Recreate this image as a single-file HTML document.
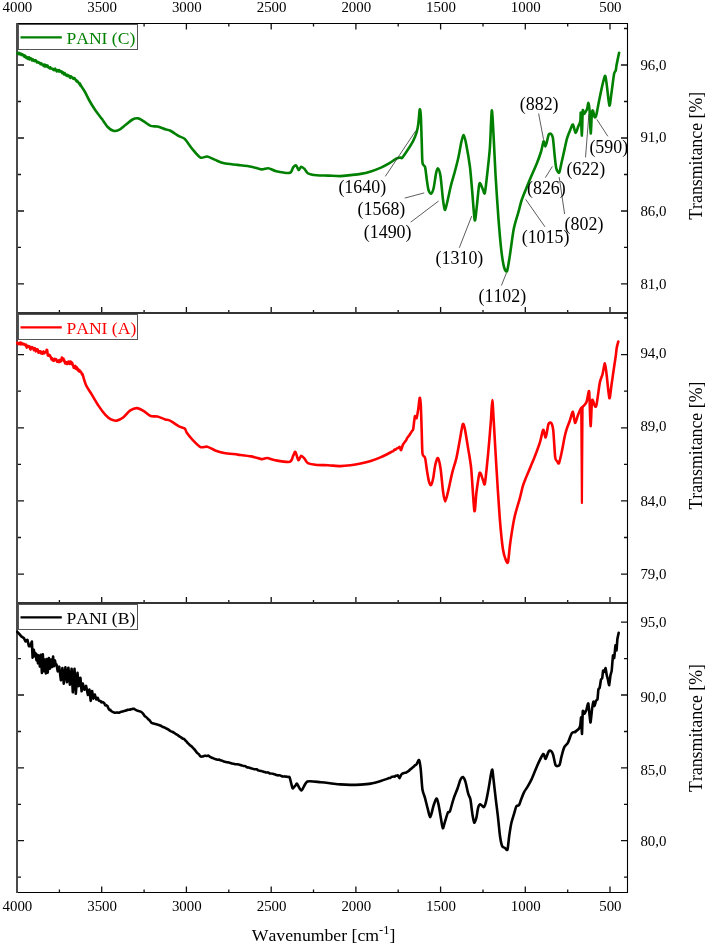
<!DOCTYPE html>
<html><head><meta charset="utf-8"><title>FTIR</title>
<style>html,body{margin:0;padding:0;background:#fff;width:708px;height:947px;overflow:hidden}svg{display:block;will-change:transform;font-family:"Liberation Serif",serif}text{font-kerning:none;font-feature-settings:"kern" 0}</style>
</head><body>
<svg width="708" height="947" viewBox="0 0 708 947">
<rect width="708" height="947" fill="#fff"/>
<path d="M59.4 313.0v-3 M59.4 23.5v3 M101.7 313.0v-6 M101.7 23.5v6 M144.1 313.0v-3 M144.1 23.5v3 M186.4 313.0v-6 M186.4 23.5v6 M228.8 313.0v-3 M228.8 23.5v3 M271.2 313.0v-6 M271.2 23.5v6 M313.5 313.0v-3 M313.5 23.5v3 M355.9 313.0v-6 M355.9 23.5v6 M398.2 313.0v-3 M398.2 23.5v3 M440.6 313.0v-6 M440.6 23.5v6 M483.0 313.0v-3 M483.0 23.5v3 M525.3 313.0v-6 M525.3 23.5v6 M567.7 313.0v-3 M567.7 23.5v3 M610.0 313.0v-6 M610.0 23.5v6 M627 65.0h-6 M18 65.0h6 M627 138.0h-6 M18 138.0h6 M627 211.0h-6 M18 211.0h6 M627 283.9h-6 M18 283.9h6 M627 28.5h-3 M18 28.5h3 M627 101.5h-3 M18 101.5h3 M627 174.5h-3 M18 174.5h3 M627 247.4h-3 M18 247.4h3 M59.4 603.0v-3 M101.7 603.0v-6 M144.1 603.0v-3 M186.4 603.0v-6 M228.8 603.0v-3 M271.2 603.0v-6 M313.5 603.0v-3 M355.9 603.0v-6 M398.2 603.0v-3 M440.6 603.0v-6 M483.0 603.0v-3 M525.3 603.0v-6 M567.7 603.0v-3 M610.0 603.0v-6 M627 354.6h-6 M18 354.6h6 M627 427.8h-6 M18 427.8h6 M627 500.9h-6 M18 500.9h6 M627 574.1h-6 M18 574.1h6 M627 318.0h-3 M18 318.0h3 M627 391.2h-3 M18 391.2h3 M627 464.3h-3 M18 464.3h3 M627 537.5h-3 M18 537.5h3 M59.4 892.5v-3 M101.7 892.5v-6 M144.1 892.5v-3 M186.4 892.5v-6 M228.8 892.5v-3 M271.2 892.5v-6 M313.5 892.5v-3 M355.9 892.5v-6 M398.2 892.5v-3 M440.6 892.5v-6 M483.0 892.5v-3 M525.3 892.5v-6 M567.7 892.5v-3 M610.0 892.5v-6 M627 622.2h-6 M18 622.2h6 M627 695.0h-6 M18 695.0h6 M627 767.9h-6 M18 767.9h6 M627 840.7h-6 M18 840.7h6 M627 658.6h-3 M18 658.6h3 M627 731.5h-3 M18 731.5h3 M627 804.3h-3 M18 804.3h3 M627 877.1h-3 M18 877.1h3" stroke="#111" stroke-width="1.3" fill="none"/>
<path d="M17 23.5H627.5" stroke="#000" stroke-width="1.1"/>
<path d="M17 313H627.5M17 603H627.5" stroke="#333" stroke-width="1.8"/>
<path d="M17 892.5H627.5" stroke="#000" stroke-width="1.1"/>
<path d="M627.5 23V893" stroke="#000" stroke-width="1.1"/>
<path d="M17 23V893" stroke="#4a4a4a" stroke-width="2"/>
<path d="M80.50,85.20C81.10,86.11 83.79,89.89 85.00,92.00C86.21,94.11 88.24,98.60 89.60,101.00C90.96,103.40 93.55,107.59 95.20,110.00C96.85,112.41 100.33,116.83 102.00,119.10C103.67,121.37 106.19,125.44 107.70,127.00C109.21,128.56 111.79,130.41 113.30,130.80C114.81,131.19 117.35,130.71 119.00,129.90C120.65,129.09 123.90,126.09 125.70,124.70C127.50,123.31 130.83,120.34 132.50,119.50C134.17,118.66 136.69,118.15 138.20,118.40C139.71,118.65 142.15,120.40 143.80,121.40C145.45,122.40 148.79,125.21 150.60,125.90C152.41,126.59 155.44,126.15 157.40,126.60C159.36,127.05 163.62,128.78 165.30,129.30C166.98,129.82 168.17,129.58 170.00,130.50C171.83,131.42 177.04,135.08 179.00,136.20C180.96,137.32 182.89,137.15 184.70,138.90C186.51,140.65 190.49,146.81 192.60,149.30C194.71,151.79 198.54,156.64 200.50,157.60C202.46,158.56 205.34,156.19 207.30,156.50C209.26,156.81 212.95,158.99 215.20,159.90C217.45,160.81 221.19,162.63 224.20,163.30C227.21,163.97 234.17,164.45 237.80,164.90C241.43,165.35 248.24,166.10 251.40,166.70C254.56,167.30 259.25,169.20 261.50,169.40C263.75,169.60 266.34,167.96 268.30,168.20C270.26,168.44 273.33,170.59 276.20,171.20C279.07,171.81 287.53,173.32 289.80,172.80C292.07,172.28 292.36,168.27 293.20,167.30C294.04,166.33 295.35,165.13 296.10,165.50C296.85,165.87 298.13,169.94 298.80,170.10C299.47,170.26 300.34,166.86 301.10,166.70C301.86,166.54 303.59,168.01 304.50,168.90C305.41,169.79 306.25,172.55 307.90,173.40C309.55,174.25 314.19,175.01 316.90,175.30C319.61,175.59 325.08,175.49 328.20,175.60C331.32,175.71 337.33,176.17 340.30,176.10C343.27,176.03 347.78,175.39 350.50,175.10C353.22,174.81 357.99,174.39 360.70,173.90C363.41,173.41 368.09,172.24 370.80,171.40C373.51,170.56 378.51,168.69 381.00,167.60C383.49,166.51 387.46,164.40 389.50,163.20C391.54,162.00 394.83,159.36 396.30,158.60C397.77,157.84 399.71,157.61 400.50,157.50C401.29,157.39 401.19,158.89 402.20,157.80C403.21,156.71 406.63,151.57 408.10,149.30C409.57,147.03 412.07,143.05 413.20,140.80C414.33,138.55 415.92,134.65 416.60,132.40C417.28,130.15 417.89,126.95 418.30,123.90C418.71,120.85 419.37,110.63 419.70,109.50C420.03,108.37 420.53,111.23 420.80,115.40C421.07,119.57 421.47,134.47 421.70,140.80C421.93,147.13 422.05,159.39 422.50,162.90C422.95,166.41 424.53,164.85 425.10,167.10C425.67,169.35 426.35,176.75 426.80,179.80C427.25,182.85 427.94,188.15 428.50,190.00C429.06,191.85 430.32,193.93 431.00,193.70C431.68,193.47 432.92,191.05 433.60,188.30C434.28,185.55 435.51,175.74 436.10,173.10C436.69,170.46 437.41,168.11 438.00,168.50C438.59,168.89 439.85,171.95 440.50,176.00C441.15,180.05 442.33,194.38 442.90,198.90C443.47,203.42 444.24,209.39 444.80,209.90C445.36,210.41 446.29,205.94 447.10,202.70C447.91,199.46 449.89,189.67 450.90,185.60C451.91,181.53 453.69,176.01 454.70,172.20C455.71,168.39 457.61,161.05 458.50,157.00C459.39,152.95 460.71,144.71 461.40,141.80C462.09,138.89 463.07,134.95 463.70,135.20C464.33,135.45 465.27,139.53 466.10,143.70C466.93,147.87 469.09,160.15 469.90,166.50C470.71,172.85 471.56,184.14 472.20,191.30C472.84,198.46 474.11,217.92 474.70,220.20C475.29,222.48 476.03,213.01 476.60,208.40C477.17,203.79 478.49,188.89 479.00,185.60C479.51,182.31 479.88,183.19 480.40,183.70C480.92,184.21 482.31,188.13 482.90,189.40C483.49,190.67 484.25,194.99 484.80,193.20C485.35,191.41 486.32,182.09 487.00,176.00C487.68,169.91 489.26,156.23 489.90,147.50C490.54,138.77 491.29,111.77 491.80,110.50C492.31,109.23 493.19,129.27 493.70,138.00C494.21,146.73 494.97,165.35 495.60,176.00C496.23,186.65 497.64,208.01 498.40,217.90C499.16,227.79 500.54,243.61 501.30,250.20C502.06,256.79 503.34,264.51 504.10,267.30C504.86,270.09 506.24,272.62 507.00,271.10C507.76,269.58 508.91,261.47 509.80,255.90C510.69,250.33 512.55,235.13 513.70,229.30C514.85,223.47 517.33,216.11 518.40,212.20C519.47,208.29 520.58,203.36 521.70,200.00C522.82,196.64 525.45,190.32 526.80,187.00C528.15,183.68 530.45,178.26 531.80,175.10C533.15,171.94 535.66,166.45 536.90,163.30C538.14,160.15 540.21,154.42 541.10,151.50C541.99,148.58 543.04,142.08 543.60,141.40C544.16,140.72 544.85,146.40 545.30,146.40C545.75,146.40 546.55,142.97 547.00,141.40C547.45,139.83 548.18,135.61 548.70,134.60C549.22,133.59 550.34,133.35 550.90,133.80C551.46,134.25 552.41,135.19 552.90,138.00C553.39,140.81 554.15,150.85 554.60,154.90C555.05,158.95 555.69,166.04 556.30,168.40C556.91,170.76 558.52,173.28 559.20,172.60C559.88,171.92 560.65,166.57 561.40,163.30C562.15,160.03 564.04,151.45 564.80,148.10C565.56,144.75 566.37,140.64 567.10,138.20C567.83,135.76 569.53,131.63 570.30,129.80C571.07,127.97 572.19,124.09 572.90,124.50C573.61,124.91 574.89,132.62 575.60,132.90C576.31,133.18 577.57,128.15 578.20,126.60C578.83,125.05 579.95,123.13 580.30,121.30C580.65,119.47 580.59,110.99 580.80,112.90C581.01,114.81 581.65,135.88 581.90,135.60C582.15,135.32 582.42,113.69 582.70,110.80C582.98,107.91 583.61,113.77 584.00,113.90C584.39,114.03 585.17,112.51 585.60,111.80C586.03,111.09 586.83,109.80 587.20,108.60C587.57,107.40 588.09,102.65 588.40,102.80C588.71,102.95 589.19,105.61 589.50,109.70C589.81,113.79 590.38,133.07 590.70,133.50C591.02,133.93 591.59,115.93 591.90,112.90C592.21,109.87 592.64,110.24 593.00,110.80C593.36,111.36 594.17,116.47 594.60,117.10C595.03,117.73 595.64,117.47 596.20,115.50C596.76,113.53 598.11,105.75 598.80,102.30C599.49,98.85 600.59,93.12 601.40,89.60C602.21,86.08 604.19,76.59 604.90,75.90C605.61,75.21 606.10,80.45 606.70,84.40C607.30,88.35 608.76,104.38 609.40,105.50C610.04,106.62 610.87,97.03 611.50,92.80C612.13,88.57 613.54,76.76 614.10,73.80C614.66,70.84 615.35,71.87 615.70,70.60C616.05,69.33 616.25,66.69 616.70,64.30C617.15,61.91 618.78,54.25 619.10,52.70" fill="none" stroke="#008000" stroke-width="2.6" stroke-linejoin="round" stroke-linecap="round"/>
<polyline points="17.3,53.1 17.8,52.9 18.3,52.8 18.8,54.1 19.4,53.1 19.9,54.3 20.4,54.2 20.9,53.7 21.4,54.9 21.9,54.1 22.4,55.2 23.0,54.7 23.5,54.9 24.0,55.9 24.5,57.0 25.0,55.7 25.5,56.1 26.0,57.2 26.5,58.2 27.1,57.6 27.6,57.4 28.1,58.9 28.6,58.1 29.1,57.3 29.6,59.4 30.1,58.3 30.7,58.3 31.2,58.4 31.7,59.1 32.2,60.5 32.7,59.3 33.2,60.4 33.7,60.8 34.2,60.4 34.8,61.0 35.3,60.2 35.8,60.4 36.3,61.0 36.8,62.3 37.3,62.0 37.8,61.9 38.4,62.8 38.9,62.7 39.4,62.6 39.9,63.3 40.4,64.2 40.9,64.2 41.4,63.4 42.0,64.4 42.5,64.5 43.0,65.5 43.5,65.4 44.0,64.6 44.5,66.4 45.0,64.7 45.5,65.6 46.1,66.5 46.6,65.4 47.1,66.4 47.6,65.6 48.1,67.2 48.6,67.7 49.1,67.5 49.7,68.4 50.2,67.3 50.7,68.4 51.2,68.2 51.7,68.6 52.2,68.8 52.7,68.7 53.2,69.7 53.7,70.1 54.2,69.3 54.7,69.9 55.2,68.7 55.7,70.3 56.2,70.4 56.7,71.4 57.2,71.2 57.7,70.2 58.2,70.6 58.7,71.4 59.2,70.2 59.7,71.3 60.2,71.6 60.7,71.1 61.2,71.3 61.7,71.4 62.2,73.2 62.7,72.1 63.2,72.6 63.7,73.1 64.2,74.5 64.7,73.0 65.2,74.0 65.7,74.5 66.2,75.5 66.7,75.6 67.2,76.0 67.7,74.9 68.2,75.5 68.7,75.6 69.2,76.2 69.7,77.3 70.3,77.8 70.8,76.3 71.3,76.7 71.8,77.1 72.4,77.4 72.9,78.3 73.4,78.8 73.9,78.4 74.5,78.1 75.0,79.3 75.5,79.5 76.0,80.2 76.6,81.4 77.1,80.7 77.7,81.9 78.2,82.2 78.8,83.2 79.4,84.1 79.9,83.5 80.5,85.2" fill="none" stroke="#008000" stroke-width="2.6" stroke-linejoin="round" stroke-linecap="round"/>
<path d="M82.80,375.10C83.25,376.49 85.00,382.90 86.20,385.50C87.40,388.10 90.15,391.88 91.80,394.60C93.45,397.32 96.79,403.19 98.60,405.90C100.41,408.61 103.75,413.10 105.40,414.90C107.05,416.70 109.49,418.64 111.00,419.40C112.51,420.16 115.03,420.89 116.70,420.60C118.37,420.31 121.69,418.56 123.50,417.20C125.31,415.84 128.50,411.61 130.30,410.40C132.10,409.19 135.20,408.01 137.00,408.10C138.80,408.19 141.99,410.05 143.80,411.10C145.61,412.15 148.79,415.28 150.60,416.00C152.41,416.72 155.44,416.05 157.40,416.50C159.36,416.95 163.62,418.84 165.30,419.40C166.98,419.96 168.17,419.78 170.00,420.70C171.83,421.62 177.04,425.25 179.00,426.30C180.96,427.35 183.63,427.69 184.70,428.60C185.77,429.51 185.95,431.59 187.00,433.10C188.05,434.61 190.80,438.03 192.60,439.90C194.40,441.77 198.54,446.19 200.50,447.10C202.46,448.01 205.34,446.25 207.30,446.70C209.26,447.15 212.95,449.66 215.20,450.50C217.45,451.34 221.19,452.45 224.20,453.00C227.21,453.55 234.17,454.15 237.80,454.60C241.43,455.05 248.24,455.80 251.40,456.40C254.56,457.00 259.39,458.89 261.50,459.10C263.61,459.31 265.39,457.85 267.20,458.00C269.01,458.15 272.09,459.69 275.10,460.20C278.11,460.71 287.39,462.40 289.80,461.80C292.21,461.20 292.45,457.02 293.20,455.70C293.95,454.38 294.71,451.30 295.40,451.90C296.09,452.50 297.64,459.69 298.40,460.20C299.16,460.71 300.29,455.91 301.10,455.70C301.91,455.49 303.59,457.60 304.50,458.60C305.41,459.60 306.25,462.35 307.90,463.20C309.55,464.05 314.19,464.73 316.90,465.00C319.61,465.27 325.08,465.05 328.20,465.20C331.32,465.35 337.33,466.09 340.30,466.10C343.27,466.11 347.78,465.63 350.50,465.30C353.22,464.97 357.99,464.17 360.70,463.60C363.41,463.03 368.09,461.87 370.80,461.00C373.51,460.13 378.28,458.30 381.00,457.10C383.72,455.90 389.70,452.77 391.20,452.00C392.70,451.23 391.98,451.45 392.26,451.34C392.55,451.23 393.04,451.38 393.32,451.16C393.61,450.94 394.10,449.88 394.39,449.69C394.67,449.51 395.17,449.90 395.45,449.77C395.73,449.64 396.23,448.96 396.51,448.74C396.80,448.53 397.29,448.29 397.57,448.17C397.86,448.05 398.35,448.04 398.64,447.87C398.92,447.70 399.38,446.58 399.70,446.90C400.01,447.22 400.69,450.25 401.00,450.30C401.31,450.35 401.77,448.03 402.05,447.24C402.33,446.46 402.83,444.98 403.10,444.40C403.37,443.82 403.83,443.27 404.10,442.89C404.37,442.51 404.83,441.89 405.10,441.55C405.37,441.21 405.83,440.77 406.10,440.32C406.37,439.87 406.83,438.63 407.10,438.16C407.37,437.69 407.83,437.14 408.10,436.80C408.37,436.46 408.85,435.99 409.12,435.61C409.39,435.23 409.87,434.40 410.14,433.97C410.41,433.54 410.89,432.82 411.16,432.38C411.43,431.93 411.91,431.05 412.18,430.62C412.45,430.20 412.84,431.10 413.20,429.20C413.56,427.30 414.45,417.88 414.90,416.40C415.35,414.92 416.15,419.11 416.60,418.10C417.05,417.09 417.89,411.51 418.30,408.80C418.71,406.09 419.37,398.25 419.70,397.80C420.03,397.35 420.53,401.00 420.80,405.40C421.07,409.80 421.47,424.36 421.70,430.80C421.93,437.24 422.05,450.07 422.50,453.70C422.95,457.33 424.49,455.63 425.10,458.00C425.71,460.37 426.58,468.34 427.10,471.50C427.62,474.66 428.48,479.89 429.00,481.70C429.52,483.51 430.44,485.55 431.00,485.10C431.56,484.65 432.63,481.02 433.20,478.30C433.77,475.58 434.66,467.39 435.30,464.70C435.94,462.01 437.29,457.57 438.00,458.10C438.71,458.63 439.92,464.19 440.60,468.70C441.28,473.21 442.49,487.54 443.10,491.90C443.71,496.26 444.55,501.40 445.20,501.40C445.85,501.40 447.07,495.70 448.00,491.90C448.93,488.10 451.08,477.41 452.20,472.90C453.32,468.39 455.41,462.33 456.40,458.10C457.39,453.87 458.76,445.69 459.60,441.20C460.44,436.71 462.01,426.08 462.70,424.40C463.39,422.72 464.09,425.51 464.80,428.60C465.51,431.69 467.15,442.25 468.00,447.60C468.85,452.95 470.35,460.26 471.20,468.70C472.05,477.14 473.69,507.81 474.40,510.90C475.11,513.99 475.81,496.97 476.50,491.90C477.19,486.83 478.76,474.58 479.60,472.90C480.44,471.22 482.09,477.89 482.80,479.30C483.51,480.71 484.19,486.89 484.90,483.50C485.61,480.11 487.31,462.07 488.10,453.90C488.89,445.73 490.24,429.37 490.80,422.20C491.36,415.03 491.90,400.10 492.30,400.10C492.70,400.10 493.24,413.05 493.80,422.20C494.36,431.35 495.71,456.02 496.50,468.70C497.29,481.38 498.85,506.59 499.70,517.30C500.55,528.01 502.06,543.23 502.90,549.00C503.74,554.77 505.31,558.92 506.00,560.60C506.69,562.28 507.53,564.00 508.10,561.60C508.67,559.20 509.45,548.51 510.30,542.60C511.15,536.69 513.23,523.21 514.50,517.30C515.77,511.39 518.68,502.49 519.80,498.30C520.92,494.11 522.11,488.57 522.90,485.90C523.69,483.23 524.69,480.83 525.70,478.30C526.71,475.77 529.23,469.94 530.50,466.90C531.77,463.86 533.93,458.79 535.20,455.50C536.47,452.21 538.93,445.63 540.00,442.20C541.07,438.77 542.44,430.44 543.20,429.80C543.96,429.16 544.99,438.16 545.70,437.40C546.41,436.64 547.74,425.99 548.50,424.10C549.26,422.21 550.76,422.31 551.40,423.20C552.04,424.09 552.79,426.24 553.30,430.80C553.81,435.36 554.69,453.35 555.20,457.40C555.71,461.45 556.59,460.44 557.10,461.20C557.61,461.96 558.37,464.37 559.00,463.10C559.63,461.83 561.04,455.25 561.80,451.70C562.56,448.15 564.06,439.49 564.70,436.50C565.34,433.51 565.92,431.39 566.60,429.30C567.28,427.21 568.96,423.13 569.80,420.80C570.64,418.47 572.21,411.52 572.90,411.80C573.59,412.08 574.29,422.54 575.00,422.90C575.71,423.26 577.43,416.39 578.20,414.50C578.97,412.61 580.09,409.83 580.80,408.70C581.51,407.57 582.73,406.92 583.50,406.00C584.27,405.08 585.89,403.77 586.60,401.80C587.31,399.83 588.41,391.76 588.80,391.20C589.19,390.64 589.26,392.95 589.50,397.60C589.74,402.25 590.28,425.54 590.60,426.10C590.92,426.66 591.58,405.19 591.90,401.80C592.22,398.41 592.57,400.06 593.00,400.70C593.43,401.34 594.61,406.17 595.10,406.60C595.59,407.03 596.07,407.07 596.70,403.90C597.33,400.73 599.03,386.73 599.80,382.80C600.57,378.87 601.82,377.00 602.50,374.40C603.18,371.80 604.34,363.17 604.90,363.30C605.46,363.43 606.10,370.76 606.70,375.40C607.30,380.04 608.76,396.83 609.40,398.10C610.04,399.37 610.87,389.05 611.50,384.90C612.13,380.75 613.54,370.80 614.10,367.00C614.66,363.20 615.35,358.93 615.70,356.40C616.05,353.87 616.35,349.97 616.70,348.00C617.05,346.03 618.09,342.45 618.30,341.60" fill="none" stroke="#ff0000" stroke-width="2.6" stroke-linejoin="round" stroke-linecap="round"/>
<polyline points="17.3,342.5 17.8,343.9 18.2,343.7 18.7,344.2 19.1,344.2 19.6,343.1 20.0,343.3 20.4,342.6 20.9,344.4 21.4,342.9 21.8,343.1 22.2,343.7 22.7,343.8 23.2,344.5 23.6,343.8 24.1,343.9 24.5,344.5 24.9,344.5 25.4,345.5 25.9,344.7 26.3,346.3 26.8,347.6 27.2,347.0 27.7,345.8 28.2,346.3 28.7,346.7 29.1,347.0 29.6,346.4 30.1,348.8 30.6,349.4 31.0,348.0 31.5,348.2 32.0,347.2 32.5,347.4 32.9,348.3 33.4,348.3 33.9,350.1 34.4,348.3 34.8,348.1 35.3,349.7 35.8,351.3 36.2,350.2 36.7,349.3 37.1,350.7 37.6,349.4 38.0,351.1 38.5,352.7 38.9,352.6 39.4,352.3 39.8,351.3 40.3,351.8 40.7,351.4 41.2,353.5 41.6,353.0 42.1,353.1 42.6,353.7 43.0,352.1 43.5,351.5 44.0,353.0 44.4,353.3 44.9,352.6 45.3,352.2 45.8,352.0 46.3,351.5 46.7,349.7 47.2,350.3 47.8,355.3 48.3,355.7 48.7,355.5 49.2,354.9 49.7,355.2 50.1,356.3 50.6,356.6 51.1,358.2 51.5,359.3 52.0,358.1 52.5,359.9 52.9,360.4 53.4,359.3 53.9,360.8 54.3,359.2 54.8,358.9 55.2,359.1 55.7,359.2 56.1,359.3 56.6,360.7 57.0,361.7 57.5,361.7 57.9,360.8 58.4,361.4 58.8,362.0 59.3,360.0 59.7,361.9 60.2,361.6 60.8,361.5 61.3,359.8 61.9,357.6 62.4,359.0 62.9,358.8 63.4,358.5 63.8,361.0 64.3,360.3 64.8,362.3 65.3,363.5 65.8,362.7 66.3,362.4 66.8,362.4 67.3,364.0 67.7,363.4 68.2,361.7 68.7,361.6 69.2,361.7 69.7,363.9 70.2,363.6 70.6,361.6 71.1,363.7 71.6,364.1 72.1,362.7 72.7,364.9 73.2,365.7 73.8,367.8 74.3,367.8 74.7,366.5 75.2,366.0 75.7,368.8 76.1,367.7 76.6,367.2 77.1,367.9 77.6,369.8 78.1,368.9 78.5,370.9 79.0,371.4 79.5,370.2 80.0,371.7 80.5,371.5 80.9,372.2 81.4,372.6 81.9,374.2 82.3,373.8 82.8,375.1" fill="none" stroke="#ff0000" stroke-width="2.6" stroke-linejoin="round" stroke-linecap="round"/>
<polyline points="581.2,409.5 581.6,460.0 581.9,503.0 582.2,460.0 582.6,406.5" fill="none" stroke="#ff0000" stroke-width="2.2" stroke-linejoin="round"/>
<path d="M101.40,702.10C101.49,702.12 101.88,702.22 102.06,702.22C102.24,702.21 102.54,701.99 102.72,702.05C102.90,702.10 103.20,702.50 103.38,702.62C103.56,702.74 103.86,702.71 104.04,702.92C104.22,703.13 104.52,703.87 104.70,704.20C104.88,704.53 105.20,705.25 105.38,705.36C105.56,705.48 105.88,705.04 106.06,705.07C106.24,705.10 106.56,705.43 106.74,705.57C106.92,705.70 107.24,705.82 107.42,706.09C107.60,706.36 107.93,707.22 108.10,707.60C108.27,707.98 108.54,708.68 108.70,708.96C108.86,709.24 109.14,709.57 109.30,709.70C109.46,709.84 109.74,709.96 109.90,709.98C110.06,710.01 110.34,709.75 110.50,709.88C110.66,710.02 110.51,710.62 111.10,711.00C111.69,711.38 114.11,712.50 114.90,712.70C115.69,712.90 116.48,712.49 117.05,712.49C117.62,712.49 118.69,712.78 119.20,712.70C119.71,712.62 120.41,712.06 120.85,711.88C121.29,711.71 122.05,711.52 122.50,711.40C122.95,711.28 123.75,711.07 124.20,710.97C124.65,710.86 125.45,710.75 125.90,710.60C126.35,710.45 127.15,710.00 127.60,709.88C128.05,709.76 128.87,709.77 129.30,709.70C129.73,709.63 130.42,709.46 130.83,709.36C131.24,709.25 131.96,708.98 132.37,708.91C132.78,708.84 133.45,708.66 133.90,708.80C134.35,708.94 135.26,709.71 135.75,709.97C136.24,710.23 137.11,710.61 137.60,710.78C138.09,710.95 138.96,711.07 139.45,711.24C139.94,711.40 140.82,711.68 141.30,712.00C141.78,712.32 142.57,713.09 143.03,713.63C143.50,714.17 144.30,715.54 144.77,716.04C145.23,716.54 146.04,716.92 146.50,717.35C146.96,717.77 147.77,718.76 148.23,719.22C148.70,719.67 149.50,720.26 149.97,720.77C150.43,721.27 151.22,722.64 151.70,723.00C152.18,723.36 153.06,723.29 153.55,723.43C154.04,723.57 154.91,723.88 155.40,724.03C155.89,724.18 156.76,724.43 157.25,724.58C157.74,724.72 158.62,724.94 159.10,725.10C159.58,725.26 160.37,725.51 160.83,725.74C161.30,725.98 162.10,726.66 162.57,726.87C163.03,727.09 163.84,727.14 164.30,727.35C164.76,727.56 165.57,728.20 166.03,728.44C166.50,728.69 167.30,728.93 167.77,729.19C168.23,729.45 169.05,730.12 169.50,730.40C169.95,730.68 170.71,731.09 171.14,731.31C171.58,731.52 172.35,731.79 172.79,732.01C173.23,732.23 173.99,732.69 174.43,732.98C174.87,733.28 175.64,733.91 176.08,734.20C176.52,734.49 177.28,734.84 177.72,735.13C178.16,735.42 178.93,736.11 179.37,736.40C179.81,736.70 180.57,737.06 181.01,737.35C181.45,737.63 182.22,738.25 182.66,738.51C183.09,738.77 183.84,738.94 184.30,739.30C184.76,739.66 185.61,740.71 186.08,741.21C186.55,741.70 187.39,742.53 187.86,743.03C188.33,743.53 189.17,744.50 189.64,744.94C190.11,745.38 190.95,745.90 191.42,746.33C191.89,746.77 192.72,747.69 193.20,748.20C193.68,748.71 194.56,749.53 195.05,750.14C195.54,750.74 196.41,752.20 196.90,752.74C197.39,753.27 198.26,753.64 198.75,754.14C199.24,754.65 200.15,756.19 200.60,756.50C201.05,756.81 201.70,756.53 202.10,756.50C202.50,756.47 203.20,756.38 203.60,756.25C204.00,756.13 204.70,755.62 205.10,755.60C205.50,755.57 206.20,756.05 206.60,756.05C207.00,756.05 207.64,755.48 208.10,755.60C208.56,755.72 209.54,756.63 210.07,756.91C210.59,757.19 211.51,757.48 212.03,757.70C212.56,757.93 213.52,758.40 214.00,758.60C214.48,758.80 215.21,759.07 215.64,759.22C216.08,759.37 216.85,759.66 217.29,759.72C217.73,759.77 218.49,759.53 218.93,759.61C219.37,759.70 220.14,760.20 220.58,760.35C221.02,760.51 221.78,760.62 222.22,760.77C222.66,760.92 223.43,761.32 223.87,761.47C224.31,761.62 225.07,761.76 225.51,761.88C225.95,761.99 226.72,762.24 227.16,762.33C227.59,762.41 228.36,762.42 228.80,762.50C229.24,762.58 230.01,762.81 230.46,762.96C230.90,763.10 231.67,763.48 232.11,763.59C232.55,763.71 233.33,763.73 233.77,763.81C234.21,763.90 234.98,764.15 235.42,764.21C235.86,764.27 236.64,764.20 237.08,764.23C237.52,764.26 238.29,764.36 238.73,764.46C239.17,764.55 239.95,764.79 240.39,764.93C240.83,765.07 241.60,765.36 242.04,765.50C242.49,765.64 243.26,765.91 243.70,766.00C244.14,766.09 244.89,765.99 245.32,766.15C245.75,766.31 246.50,767.02 246.94,767.20C247.37,767.37 248.12,767.34 248.55,767.44C248.99,767.54 249.74,767.83 250.17,767.96C250.60,768.09 251.36,768.29 251.79,768.42C252.22,768.55 252.98,768.82 253.41,768.93C253.84,769.04 254.60,769.19 255.03,769.24C255.46,769.29 256.21,769.16 256.65,769.31C257.08,769.47 257.83,770.21 258.26,770.41C258.70,770.61 259.45,770.74 259.88,770.83C260.31,770.93 261.06,771.01 261.50,771.10C261.94,771.19 262.71,771.41 263.14,771.52C263.58,771.64 264.35,771.84 264.79,771.97C265.23,772.10 265.99,772.43 266.43,772.49C266.87,772.56 267.64,772.32 268.08,772.44C268.52,772.56 269.28,773.27 269.72,773.40C270.16,773.53 270.93,773.39 271.37,773.44C271.81,773.48 272.57,773.60 273.01,773.72C273.45,773.83 274.22,774.13 274.66,774.29C275.09,774.45 275.86,774.75 276.30,774.90C276.74,775.05 277.52,775.33 277.96,775.38C278.41,775.43 279.18,775.18 279.62,775.26C280.07,775.35 280.84,775.83 281.29,775.99C281.73,776.15 282.51,776.43 282.95,776.48C283.39,776.53 284.17,776.38 284.61,776.40C285.06,776.41 285.83,776.53 286.28,776.61C286.72,776.68 287.49,776.89 287.94,776.98C288.38,777.08 289.18,776.50 289.60,777.30C290.02,778.10 290.70,781.48 291.10,782.95C291.50,784.41 292.20,787.76 292.60,788.30C293.00,788.84 293.70,787.40 294.10,787.01C294.50,786.63 295.20,785.82 295.60,785.39C296.00,784.97 296.31,783.13 297.10,783.80C297.89,784.47 300.13,790.71 301.50,790.40C302.87,790.09 304.83,782.58 307.40,781.50C309.97,780.42 317.79,782.07 320.80,782.30C323.81,782.53 327.41,782.92 330.00,783.20C332.59,783.48 337.49,784.17 340.20,784.40C342.91,784.63 347.59,784.87 350.30,784.90C353.01,784.93 357.78,784.77 360.50,784.60C363.22,784.43 367.99,784.08 370.70,783.60C373.41,783.12 378.32,781.73 380.80,781.00C383.28,780.27 388.03,778.51 389.30,778.10C390.57,777.69 390.08,778.04 390.36,777.89C390.65,777.74 391.14,777.14 391.43,776.98C391.71,776.82 392.20,776.77 392.49,776.70C392.77,776.63 393.27,776.47 393.55,776.45C393.83,776.44 394.33,776.68 394.61,776.59C394.90,776.51 395.39,775.92 395.68,775.80C395.96,775.69 396.45,775.79 396.74,775.72C397.02,775.65 397.43,774.98 397.80,775.30C398.17,775.62 399.05,778.18 399.50,778.10C399.95,778.02 400.82,775.29 401.20,774.70C401.58,774.11 402.03,773.87 402.33,773.66C402.64,773.46 403.16,773.27 403.47,773.16C403.77,773.05 404.30,772.88 404.60,772.82C404.90,772.75 405.43,772.76 405.73,772.67C406.04,772.58 406.56,772.31 406.87,772.14C407.17,771.97 407.71,771.59 408.00,771.40C408.29,771.21 408.75,770.97 409.02,770.72C409.29,770.46 409.77,769.72 410.04,769.47C410.31,769.22 410.79,769.04 411.06,768.84C411.33,768.63 411.81,768.16 412.08,767.92C412.35,767.69 412.82,767.33 413.10,767.10C413.38,766.87 413.91,766.51 414.20,766.23C414.49,765.96 415.01,765.27 415.30,765.05C415.59,764.83 415.91,765.27 416.40,764.60C416.89,763.93 418.43,759.44 419.00,760.00C419.57,760.56 420.25,764.91 420.70,768.80C421.15,772.69 421.84,785.36 422.40,789.20C422.96,793.04 424.22,795.12 424.90,797.60C425.58,800.08 426.78,805.20 427.50,807.80C428.22,810.40 429.51,817.33 430.30,817.10C431.09,816.87 432.59,808.58 433.40,806.10C434.21,803.62 435.72,798.73 436.40,798.50C437.08,798.27 437.89,801.69 438.50,804.40C439.11,807.11 440.43,815.61 441.00,818.80C441.57,821.99 442.28,827.89 442.80,828.30C443.32,828.71 444.23,823.98 444.90,821.90C445.57,819.82 447.13,814.11 447.80,812.70C448.47,811.29 449.15,813.09 449.90,811.30C450.65,809.51 452.36,802.41 453.40,799.30C454.44,796.19 456.75,790.64 457.70,788.00C458.65,785.36 459.81,780.97 460.50,779.50C461.19,778.03 462.25,776.71 462.90,777.00C463.55,777.29 464.69,779.47 465.40,781.70C466.11,783.93 467.53,791.35 468.20,793.70C468.87,796.05 469.83,796.47 470.40,799.30C470.97,802.13 471.99,811.79 472.50,814.90C473.01,818.01 473.68,822.23 474.20,822.60C474.72,822.97 475.88,819.67 476.40,817.70C476.92,815.73 477.58,809.59 478.10,807.80C478.62,806.01 479.54,804.39 480.30,804.30C481.06,804.21 483.05,807.39 483.80,807.10C484.55,806.81 485.25,804.65 485.90,802.10C486.55,799.55 488.05,791.57 488.70,788.00C489.35,784.43 490.32,777.74 490.80,775.30C491.28,772.86 491.91,768.94 492.30,769.70C492.69,770.46 493.23,777.05 493.70,781.00C494.17,784.95 495.24,794.59 495.80,799.30C496.36,804.01 497.34,811.41 497.90,816.30C498.46,821.19 499.44,832.05 500.00,836.00C500.56,839.95 501.43,844.30 502.10,845.90C502.77,847.50 504.28,847.52 505.00,848.00C505.72,848.48 506.94,851.10 507.50,849.50C508.06,847.90 508.69,839.49 509.20,836.00C509.71,832.51 510.63,826.31 511.30,823.30C511.97,820.29 513.53,815.65 514.20,813.40C514.87,811.15 515.65,807.52 516.30,806.40C516.95,805.28 518.45,805.95 519.10,805.00C519.75,804.05 520.55,800.99 521.20,799.30C521.85,797.61 523.15,793.99 524.00,792.30C524.85,790.61 526.56,788.40 527.60,786.60C528.64,784.80 530.97,780.48 531.80,778.80C532.63,777.12 532.89,776.16 533.80,774.00C534.71,771.84 537.33,765.27 538.60,762.60C539.87,759.93 542.37,754.51 543.30,754.00C544.23,753.49 544.89,759.12 545.60,758.80C546.31,758.48 547.84,752.61 548.60,751.60C549.36,750.59 550.69,750.75 551.30,751.20C551.91,751.65 552.61,753.11 553.20,755.00C553.79,756.89 554.86,764.08 555.70,765.40C556.54,766.72 558.74,766.03 559.50,764.90C560.26,763.77 560.77,759.23 561.40,756.90C562.03,754.57 563.32,749.31 564.20,747.40C565.08,745.49 566.99,744.51 568.00,742.60C569.01,740.69 570.87,734.51 571.80,733.10C572.73,731.69 574.57,732.15 575.00,732.00" fill="none" stroke="#000" stroke-width="2.6" stroke-linejoin="round" stroke-linecap="round"/>
<polyline points="17.3,631.8 19.2,633.9 21.3,636.4 23.9,638.1 25.5,641.5 27.4,639.8 28.9,646.1 30.2,646.1 31.9,641.5 32.6,657.6 33.8,649.8 34.7,656.2 35.6,653.2 36.5,660.4 37.3,654.8 38.0,663.3 38.8,655.6 39.9,666.5 40.9,654.9 41.9,673.0 42.8,654.2 43.9,671.3 44.9,659.5 45.9,673.5 46.8,659.0 47.7,672.7 48.9,658.1 50.0,668.7 51.0,659.6 52.1,667.0 53.1,656.5 53.9,666.2 55.0,660.6 55.8,665.2 56.5,664.4 57.7,671.4 59.2,666.7 60.9,680.3 62.4,668.1 63.8,683.6 65.4,667.3 67.0,682.2 68.4,667.7 69.9,684.6 71.6,668.8 72.8,692.3 74.5,668.9 75.8,693.8 77.5,672.8 78.7,686.1 80.4,677.7 81.6,691.3 82.8,683.5 84.4,689.8 86.1,685.9 87.9,695.0 89.4,689.6 90.7,700.9 92.1,691.0 93.4,698.6 94.8,694.6 96.4,699.5 97.7,697.8 98.9,700.8 100.6,701.1 101.4,702.1" fill="none" stroke="#000" stroke-width="2.6" stroke-linejoin="round" stroke-linecap="round"/>
<path d="M575.00,732.00C575.32,731.74 578.36,729.48 578.80,728.90C579.24,728.32 580.11,726.05 580.30,725.10C580.49,724.15 580.96,716.77 581.10,717.50C581.24,718.23 581.86,734.43 582.00,733.90C582.14,733.37 582.59,712.78 582.80,711.10C583.01,709.42 584.20,713.80 584.50,713.70C584.80,713.60 586.08,710.75 586.40,709.90C586.72,709.05 587.97,702.45 588.30,703.50C588.63,704.55 590.08,722.08 590.40,722.50C590.72,722.92 591.85,710.34 592.10,708.60C592.35,706.86 593.19,701.81 593.40,701.60C593.61,701.39 594.39,706.15 594.60,706.10C594.81,706.05 595.66,701.58 595.90,701.00C596.14,700.42 597.29,700.05 597.50,699.10C597.71,698.15 598.22,690.55 598.40,689.60C598.58,688.65 599.48,688.54 599.70,687.70C599.92,686.86 600.79,680.29 601.00,679.50C601.21,678.71 602.03,678.94 602.20,678.20C602.38,677.46 602.92,671.12 603.10,670.60C603.28,670.08 604.19,672.11 604.40,671.90C604.61,671.69 605.42,667.89 605.60,668.10C605.78,668.31 606.41,673.45 606.60,674.40C606.79,675.35 607.68,678.60 607.90,679.50C608.12,680.40 608.99,685.52 609.20,685.20C609.41,684.88 610.19,676.92 610.40,675.70C610.61,674.48 611.48,672.29 611.70,670.60C611.92,668.91 612.79,656.45 613.00,655.40C613.21,654.35 613.99,658.84 614.20,658.00C614.41,657.16 615.31,645.93 615.50,645.30C615.69,644.67 616.34,650.92 616.50,650.40C616.66,649.88 617.22,640.48 617.40,639.00C617.58,637.52 618.59,633.23 618.70,632.70" fill="none" stroke="#000" stroke-width="2.6" stroke-linejoin="round" stroke-linecap="round"/>
<rect x="18.5" y="24.5" width="119" height="25" fill="#fff" stroke="#555" stroke-width="1"/>
<path d="M20.5 37.4H61.8" stroke="#008000" stroke-width="2.4"/>
<text x="66.4" y="43.5" font-family="Liberation Serif" font-size="17.6" fill="#008000">PANI (C)</text>
<rect x="18.5" y="314.5" width="119" height="25" fill="#fff" stroke="#555" stroke-width="1"/>
<path d="M20.5 327.4H61.8" stroke="#ff0000" stroke-width="2.4"/>
<text x="66.4" y="333.5" font-family="Liberation Serif" font-size="17.6" fill="#ff0000">PANI (A)</text>
<rect x="18.5" y="604.5" width="119" height="25" fill="#fff" stroke="#555" stroke-width="1"/>
<path d="M20.5 617.4H61.8" stroke="#000" stroke-width="2.4"/>
<text x="66.4" y="623.5" font-family="Liberation Serif" font-size="17.6" fill="#000">PANI (B)</text>
<path d="M385.3 176.4L415.8 130.7 M404.7 198.1L424.2 192.9 M410.7 222.2L438.6 201.0 M459.3 247.8L471.7 216.1 M501.4 285.6L506.4 273.0 M538.6 113.5L543.6 139.7 M545.3 177.7L552.4 166.4 M559.2 177.2L564.6 214.0 M585.5 157.4L588.9 114.3 M596.9 119.4L607.8 136.3 M525.7 199.4L545.0 226.9" stroke="#333" stroke-width="0.8" fill="none"/>
<text x="338.4" y="192.5" font-family="Liberation Serif" font-size="17.9" fill="#000">(1640)</text>
<text x="357.6" y="215.1" font-family="Liberation Serif" font-size="17.9" fill="#000">(1568)</text>
<text x="363.8" y="238.1" font-family="Liberation Serif" font-size="17.9" fill="#000">(1490)</text>
<text x="435.6" y="264.2" font-family="Liberation Serif" font-size="17.9" fill="#000">(1310)</text>
<text x="478.5" y="301.6" font-family="Liberation Serif" font-size="17.9" fill="#000">(1102)</text>
<text x="519.8" y="109.7" font-family="Liberation Serif" font-size="17.9" fill="#000">(882)</text>
<text x="589.4" y="152.7" font-family="Liberation Serif" font-size="17.9" fill="#000">(590)</text>
<text x="566.5" y="174.8" font-family="Liberation Serif" font-size="17.9" fill="#000">(622)</text>
<text x="527.0" y="194.2" font-family="Liberation Serif" font-size="17.9" fill="#000">(826)</text>
<text x="564.6" y="229.8" font-family="Liberation Serif" font-size="17.9" fill="#000">(802)</text>
<text x="521.7" y="243.4" font-family="Liberation Serif" font-size="17.9" fill="#000">(1015)</text>
<text x="17.4" y="12.0" text-anchor="middle" font-family="Liberation Serif" font-size="14.9">4000</text>
<text x="17.4" y="910.8" text-anchor="middle" font-family="Liberation Serif" font-size="14.9">4000</text>
<text x="102.1" y="12.0" text-anchor="middle" font-family="Liberation Serif" font-size="14.9">3500</text>
<text x="102.1" y="910.8" text-anchor="middle" font-family="Liberation Serif" font-size="14.9">3500</text>
<text x="186.8" y="12.0" text-anchor="middle" font-family="Liberation Serif" font-size="14.9">3000</text>
<text x="186.8" y="910.8" text-anchor="middle" font-family="Liberation Serif" font-size="14.9">3000</text>
<text x="271.6" y="12.0" text-anchor="middle" font-family="Liberation Serif" font-size="14.9">2500</text>
<text x="271.6" y="910.8" text-anchor="middle" font-family="Liberation Serif" font-size="14.9">2500</text>
<text x="356.3" y="12.0" text-anchor="middle" font-family="Liberation Serif" font-size="14.9">2000</text>
<text x="356.3" y="910.8" text-anchor="middle" font-family="Liberation Serif" font-size="14.9">2000</text>
<text x="441.0" y="12.0" text-anchor="middle" font-family="Liberation Serif" font-size="14.9">1500</text>
<text x="441.0" y="910.8" text-anchor="middle" font-family="Liberation Serif" font-size="14.9">1500</text>
<text x="525.7" y="12.0" text-anchor="middle" font-family="Liberation Serif" font-size="14.9">1000</text>
<text x="525.7" y="910.8" text-anchor="middle" font-family="Liberation Serif" font-size="14.9">1000</text>
<text x="610.4" y="12.0" text-anchor="middle" font-family="Liberation Serif" font-size="14.9">500</text>
<text x="610.4" y="910.8" text-anchor="middle" font-family="Liberation Serif" font-size="14.9">500</text>
<text x="640.4" y="70.1" font-family="Liberation Serif" font-size="14.9">96,0</text>
<text x="640.4" y="142.0" font-family="Liberation Serif" font-size="14.9">91,0</text>
<text x="640.4" y="215.5" font-family="Liberation Serif" font-size="14.9">86,0</text>
<text x="640.4" y="288.8" font-family="Liberation Serif" font-size="14.9">81,0</text>
<text x="640.4" y="357.5" font-family="Liberation Serif" font-size="14.9">94,0</text>
<text x="640.4" y="431.4" font-family="Liberation Serif" font-size="14.9">89,0</text>
<text x="640.4" y="505.8" font-family="Liberation Serif" font-size="14.9">84,0</text>
<text x="640.4" y="578.9" font-family="Liberation Serif" font-size="14.9">79,0</text>
<text x="640.4" y="627.0" font-family="Liberation Serif" font-size="14.9">95,0</text>
<text x="640.4" y="702.2" font-family="Liberation Serif" font-size="14.9">90,0</text>
<text x="640.4" y="775.1" font-family="Liberation Serif" font-size="14.9">85,0</text>
<text x="640.4" y="845.6" font-family="Liberation Serif" font-size="14.9">80,0</text>
<text x="251.8" y="941" font-family="Liberation Serif" font-size="17.7">Wavenumber [cm<tspan font-size="12.5" dy="-7.5">-1</tspan><tspan dy="7.5">]</tspan></text>
<text transform="translate(701.8,155.8) rotate(-90) scale(1,1.05)" text-anchor="middle" font-family="Liberation Serif" font-size="17.8">Transmitance [%]</text>
<text transform="translate(701.8,445.6) rotate(-90) scale(1,1.05)" text-anchor="middle" font-family="Liberation Serif" font-size="17.8">Transmitance [%]</text>
<text transform="translate(701.8,728.0) rotate(-90) scale(1,1.05)" text-anchor="middle" font-family="Liberation Serif" font-size="17.8">Transmitance [%]</text>
</svg>
</body></html>
